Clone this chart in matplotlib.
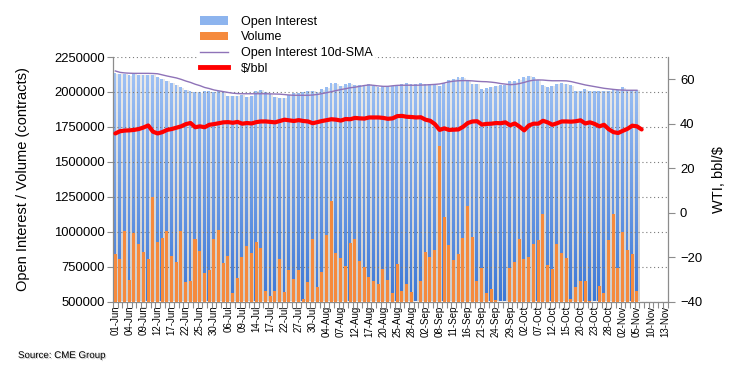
import numpy as np
import pandas as pd
import matplotlib
matplotlib.use("Agg")
import matplotlib.pyplot as plt
from matplotlib.path import Path
from matplotlib.patches import PathPatch, Patch
from matplotlib.lines import Line2D
from matplotlib.colors import LinearSegmentedColormap
from matplotlib.ticker import FuncFormatter
import matplotlib.patheffects as pe

plt.rcParams['font.family'] = ['Liberation Sans', 'DejaVu Sans']

# -----------------------
# Data (CME WTI, trading days 01-Jun .. 13-Nov 2020)
# -----------------------

dates = pd.bdate_range("2020-06-01", "2020-11-13", freq="C",
                       holidays=["2020-07-03", "2020-09-07"])
date_labels = list(dates.strftime("%d-%b"))

# open interest, thousands of contracts
open_interest_k = [
    2133, 2128, 2128, 2119, 2128, 2123, 2121, 2123, 2121, 2104,
    2092, 2080, 2066, 2052, 2033, 2014, 2004, 2002, 1997, 2004,
    2006, 2002, 2009, 2002, 1971, 1971, 1971, 1978, 1966, 1971,
    2009, 2014, 2002, 1983, 1966, 1959, 1959, 1978, 1995, 1995,
    2002, 2009, 2009, 2002, 2018, 2033, 2061, 2061, 2042, 2054,
    2061, 2052, 2047, 2052, 2059, 2042, 2033, 2042, 2042, 2042,
    2049, 2054, 2061, 2054, 2054, 2061, 2054, 2054, 2054, 2042,
    2061, 2085, 2092, 2104, 2104, 2085, 2057, 2057, 2018, 2026,
    2037, 2042, 2047, 2052, 2076, 2076, 2090, 2104, 2114, 2104,
    2085, 2049, 2033, 2042, 2057, 2061, 2057, 2047, 2009, 2009,
    2018, 2009, 2009, 2009, 2009, 2009, 2014, 2014, 2033, 2014,
    2014, 2014,
]

# volume, thousands of contracts
volume_k = [
    840, 805, 1005, 657, 990, 912, 857, 805, 1250, 926,
    957, 1005, 829, 786, 1005, 643, 650, 948, 862, 702,
    726, 945, 1012, 776, 829, 564, 671, 819, 900, 845,
    929, 886, 576, 536, 576, 805, 571, 726, 660, 726,
    521, 643, 948, 607, 714, 976, 1221, 850, 812, 757,
    921, 945, 790, 750, 674, 647, 625, 733, 654, 563,
    768, 575, 625, 570, 490, 647, 854, 818, 868, 1613,
    1105, 904, 797, 840, 954, 1183, 961, 647, 742, 563,
    589, 511, 495, 490, 742, 783, 947, 804, 818, 911,
    940, 1126, 761, 733, 911, 847, 811, 518, 604, 647,
    647, 503, 490, 611, 561, 940, 1126, 739, 997, 868,
    840, 575,
]

# open interest 10d-SMA, thousands of contracts
oi_sma_k = [
    2150, 2140, 2136, 2134, 2133, 2133, 2133, 2133, 2132, 2130,
    2122, 2114, 2107, 2100, 2090, 2078, 2068, 2055, 2045, 2032,
    2024, 2014, 2008, 2002, 1996, 1991, 1988, 1987, 1987, 1987,
    1987, 1987, 1987, 1986, 1985, 1984, 1981, 1978, 1976, 1976,
    1976, 1976, 1978, 1982, 1988, 1995, 2002, 2010, 2017, 2023,
    2030, 2034, 2040, 2046, 2050, 2047, 2043, 2040, 2040, 2044,
    2047, 2048, 2048, 2048, 2048, 2049, 2050, 2052, 2054, 2057,
    2064, 2072, 2077, 2080, 2081, 2081, 2079, 2076, 2074, 2073,
    2070, 2066, 2060, 2056, 2052, 2054, 2060, 2068, 2078, 2084,
    2086, 2085, 2082, 2080, 2080, 2080, 2079, 2074, 2066, 2058,
    2050, 2044, 2038, 2032, 2026, 2022, 2018, 2015, 2013, 2012,
    2012, 2012,
]

# WTI $/bbl
wti = [
    35.6, 36.6, 36.9, 37.0, 37.2, 37.6, 38.3, 39.2, 36.4, 35.6,
    36.2, 37.2, 37.6, 38.2, 38.8, 39.8, 40.3, 38.4, 38.8, 38.4,
    39.5, 39.8, 40.2, 40.6, 40.7, 40.4, 40.8, 40.0, 40.3, 40.1,
    40.7, 41.0, 41.0, 40.8, 40.6, 41.2, 41.8, 41.5, 41.2, 41.6,
    41.2, 41.0, 40.2, 40.7, 41.2, 41.6, 42.0, 41.8, 41.4, 42.1,
    42.0, 42.6, 42.4, 42.3, 42.8, 42.8, 42.8, 42.6, 42.2, 42.4,
    43.4, 43.5, 43.1, 43.0, 42.8, 42.9, 41.8, 41.3, 39.8, 37.2,
    37.9, 37.2, 37.3, 37.4, 38.6, 40.3, 41.0, 41.1, 39.6, 39.9,
    40.0, 40.3, 40.2, 40.6, 39.3, 40.1, 38.7, 37.0, 39.2, 40.0,
    40.0, 41.3, 40.6, 39.5, 40.2, 41.0, 41.0, 40.9, 41.1, 41.5,
    40.1, 40.6, 39.9, 38.8, 39.5, 37.5, 36.2, 35.8, 36.8, 37.7,
    39.1, 38.8, 37.4,
]

oi = np.array(open_interest_k) * 1000
vol = np.array(volume_k) * 1000
sma = np.array(oi_sma_k) * 1000

n = len(dates)
x_bar = np.arange(len(oi))
x_wti = np.arange(len(wti))

Y0, Y1 = 500000, 2250000

# -----------------------
# Plot
# -----------------------

fig = plt.figure(figsize=(7.41, 3.78), dpi=100)
ax = fig.add_axes([113/741, 1-301.5/378, (667.5-113)/741, (301.5-57)/378])


def gradient_bars(ax, x, h, width, c_bottom, c_top, zorder):
    bars = ax.bar(x, h, width=width, color='none', edgecolor='none', zorder=zorder)
    paths = [b.get_path().transformed(b.get_patch_transform()) for b in bars]
    clip = PathPatch(Path.make_compound_path(*paths), transform=ax.transData,
                     facecolor='none', edgecolor='none')
    ax.add_patch(clip)
    cmap = LinearSegmentedColormap.from_list('g', [c_bottom, c_top])
    grad = np.linspace(0, 1, 256).reshape(-1, 1)
    im = ax.imshow(grad, extent=[-0.5, n-0.5, Y0, Y1], origin='lower',
                   aspect='auto', cmap=cmap, zorder=zorder, interpolation='bilinear')
    im.set_clip_path(clip)


# shadow behind the open interest bars
gradient_bars(ax, x_bar + 0.2, oi - 3000, 0.8, '#cdcdcd', '#ececec', 1)
# open interest
gradient_bars(ax, x_bar - 0.1, oi, 0.6, '#3d78d6', '#a6c7f7', 2)
# volume
ax.bar(x_bar - 0.05, vol, width=0.64, color='#f58a3d', zorder=3)
# 10d SMA
ax.plot(x_bar, sma, color='#8f73b8', lw=1.0, zorder=4)

ax.set_xlim(-0.5, n-0.5)
ax.set_ylim(Y0, Y1)
ax.set_yticks(np.arange(Y0, Y1 + 1, 250000))
ax.yaxis.set_major_formatter(FuncFormatter(lambda v, p: f"{int(v)}"))
ax.yaxis.grid(True, color='#7a7a7a', linestyle=(0, (1, 2.5)), lw=0.8)
ax.set_axisbelow(False)

ax.set_xticks(np.arange(0, n, 3))
ax.set_xticklabels(date_labels[::3])
ax.set_xticks(np.arange(-0.5, n, 1), minor=True)
ax.tick_params(axis='x', which='major', length=0, pad=3, labelsize=7, rotation=90)
ax.tick_params(axis='x', which='minor', length=4, color='#8c8c8c', width=0.8)
ax.tick_params(axis='y', length=4, color='#8c8c8c', width=0.8, labelsize=9.4, pad=2)

for s in ['top', 'right']:
    ax.spines[s].set_visible(False)
for s in ['left', 'bottom']:
    ax.spines[s].set_color('#8c8c8c')
    ax.spines[s].set_linewidth(0.9)

ax.set_ylabel("Open Interest / Volume (contracts)", fontsize=10.5, labelpad=17)

# WTI on the right axis
ax2 = ax.twinx()
ax2.plot(x_wti, wti, color='#ff0000', lw=3.0, solid_capstyle='round',
         solid_joinstyle='round', zorder=5)
ax2.set_ylim(-40, 70)
ax2.set_yticks([-40, -20, 0, 20, 40, 60])
ax2.tick_params(axis='y', length=5, color='#8c8c8c', width=0.8, labelsize=9.4, pad=4)
for s in ['top', 'left', 'bottom']:
    ax2.spines[s].set_visible(False)
ax2.spines['right'].set_color('#8c8c8c')
ax2.spines['right'].set_linewidth(0.9)
ax2.set_ylabel("WTI, bbl/$", fontsize=10.5, labelpad=7)

# legend
handles = [
    Patch(facecolor='#8db4ee', edgecolor='none'),
    Patch(facecolor='#f58a3d', edgecolor='none'),
    Line2D([], [], color='#8f73b8', lw=1.0),
    Line2D([], [], color='#ff0000', lw=3.5),
]
names = ["Open Interest", "Volume", "Open Interest 10d-SMA", "$/bbl"]
fig.legend(handles, names, loc='upper left', bbox_to_anchor=(197/741, 1-13/378),
           fontsize=9, frameon=True, facecolor='white', edgecolor='none',
           framealpha=1, fancybox=False, borderpad=0.2, borderaxespad=0,
           handlelength=2.3, handletextpad=1.0, labelspacing=0.3)

fig.text(18/741, 1-355/378, "Source: CME Group", fontsize=7, va='center',
         path_effects=[pe.withSimplePatchShadow(offset=(0.8, -0.8),
                                                shadow_rgbFace='#bbbbbb', alpha=0.8)])

fig.savefig("out.png", dpi=100)
plt.close(fig)
